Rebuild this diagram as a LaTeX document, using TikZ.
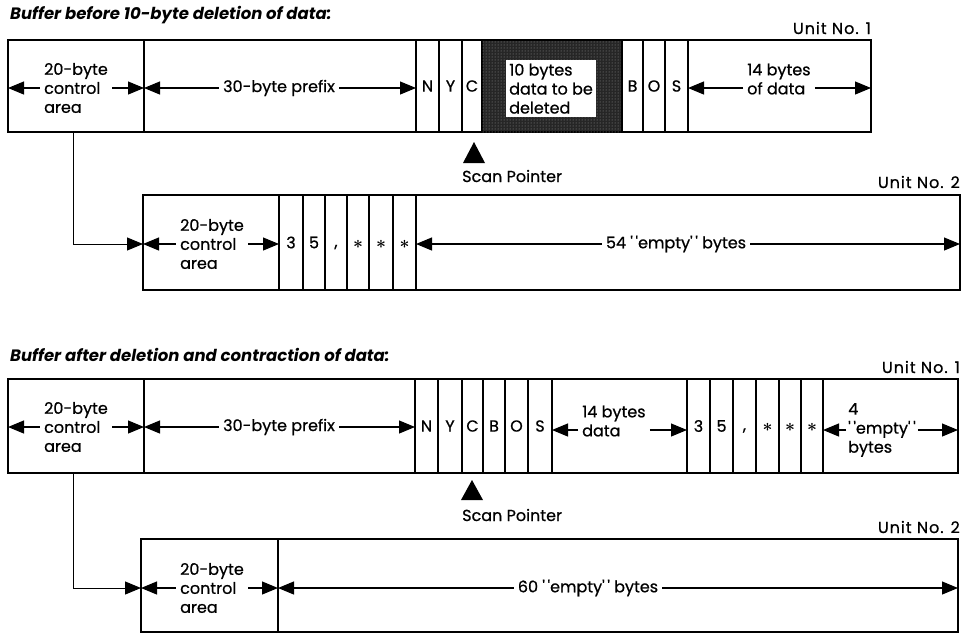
\documentclass[tikz,border=0pt]{standalone}
\usepackage{fontspec}
\setmainfont{Poppins}[UprightFeatures={FakeBold=0.7}]
\usetikzlibrary{arrows.meta,calc,patterns}
\newcommand\qq{\textquotesingle\,\textquotesingle}
\newcommand\astk{\vphantom{N}{\fontsize{19}{19}\selectfont\boldmath$\ast$}}
\newcommand\cma{\vphantom{N},}
\newcommand\cel[6]{\node[cellbox, minimum width={(#3-#2)*1pt}, minimum height={(#5-#4)*1pt}] (#1) at (#2,#4) {#6};}
\tikzset{
  cellbox/.style={draw, line width=2.4pt, inner sep=0pt, outer sep=0pt, anchor=north west, font=\fontsize{16}{19}\selectfont},
  lbl/.style={font=\fontsize{16}{19}\selectfont, align=left, inner sep=4pt},
  ttl/.style={font=\fontsize{16.5}{19}\selectfont\bfseries\itshape, anchor=west, inner sep=0pt},
  unitlbl/.style={font=\fontsize{16}{19}\selectfont\addfontfeature{LetterSpace=6}, anchor=east, inner sep=0pt},
  arr/.style={line width=1.1pt, -{Triangle[length=16pt,width=13pt]}},
  conn/.style={line width=1pt, -{Triangle[length=16pt,width=13pt]}},
  ptr/.style={fill=black},
  delbox/.style={fill=black!85, postaction={pattern=dots, pattern color=black!40}}
}
\begin{document}
\begin{tikzpicture}[x=1pt,y=-1pt]
\useasboundingbox (0,0) rectangle (962,633);
% ---------- Before ----------
\node[ttl] (t1) at (10,15) {Buffer before 10-byte deletion of data:};
\node[unitlbl] (un11) at (871,28) {Unit No. 1};
\cel{u1ctl}{8}{144}{40}{132}{}
\cel{u1pre}{144}{416}{40}{132}{}
\cel{u1N}{416}{439}{40}{132}{N}
\cel{u1Y}{439}{462}{40}{132}{Y}
\cel{u1C}{462}{482}{40}{132}{C}
\node[cellbox, delbox, minimum width=140pt, minimum height=92pt] (u1del) at (482,40) {};
\cel{u1B}{622}{643}{40}{132}{B}
\cel{u1O}{643}{665}{40}{132}{O}
\cel{u1S}{665}{688}{40}{132}{S}
\cel{u1dat}{688}{871}{40}{132}{}
\node[lbl] (l1ctl) at (76,88) {20-byte\\control\\area};
\draw[arr] (l1ctl.west) -- (l1ctl.west -| u1ctl.west);
\draw[arr] (l1ctl.east) -- (l1ctl.east -| u1ctl.east);
\node[lbl] (l1pre) at (279,88) {30-byte prefix};
\draw[arr] (l1pre.west) -- (l1pre.west -| u1pre.west);
\draw[arr] (l1pre.east) -- (l1pre.east -| u1pre.east);
\node[lbl, fill=white, anchor=north west, inner sep=3pt, minimum width=88pt, minimum height=57pt] (l1del) at (506,60) {10 bytes\\data to be\\deleted};
\node[lbl, anchor=west] (l1dat) at (743,79) {14 bytes\\of data};
\draw[arr] ([yshift=-9pt]l1dat.west) -- ([yshift=-9pt]l1dat.west -| u1dat.west);
\draw[arr] ([yshift=-9pt]l1dat.east) -- ([yshift=-9pt]l1dat.east -| u1dat.east);
\fill[ptr] (474,142) -- (463,163) -- (485,163) -- cycle;
\node[lbl, anchor=west, inner sep=0pt] (sp1) at (462,176) {Scan Pointer};
% unit 2
\node[unitlbl] (un12) at (960,182) {Unit No. 2};
\cel{u2ctl}{143}{279}{195}{290}{}
\cel{u2c3}{279}{303}{195}{290}{3}
\cel{u2c5}{303}{325}{195}{290}{5}
\cel{u2cm}{325}{347}{195}{290}{\cma}
\cel{u2s1}{347}{369}{195}{290}{\astk}
\cel{u2s2}{369}{393}{195}{290}{\astk}
\cel{u2s3}{393}{416}{195}{290}{\astk}
\cel{u2emp}{416}{960}{195}{290}{}
\node[lbl] (l2ctl) at (212,244) {20-byte\\control\\area};
\draw[arr] (l2ctl.west) -- (l2ctl.west -| u2ctl.west);
\draw[arr] (l2ctl.east) -- (l2ctl.east -| u2ctl.east);
\node[lbl] (l2emp) at (676,244) {54 \qq empty\qq{} bytes};
\draw[arr] (l2emp.west) -- (l2emp.west -| u2emp.west);
\draw[arr] (l2emp.east) -- (l2emp.east -| u2emp.east);
\coordinate (k1) at (73,244);
\draw[conn] (k1 |- u1ctl.south) -- (k1) -- (k1 -| u2ctl.west);
% ---------- After ----------
\node[ttl] (t2) at (10,355) {Buffer after deletion and contraction of data:};
\node[unitlbl] (un21) at (960,367) {Unit No. 1};
\cel{b1ctl}{8}{144}{379}{473}{}
\cel{b1pre}{144}{415}{379}{473}{}
\cel{b1N}{415}{438}{379}{473}{N}
\cel{b1Y}{438}{462}{379}{473}{Y}
\cel{b1C}{462}{483}{379}{473}{C}
\cel{b1B}{483}{505}{379}{473}{B}
\cel{b1O}{505}{528}{379}{473}{O}
\cel{b1S}{528}{552}{379}{473}{S}
\cel{b1dat}{552}{687}{379}{473}{}
\cel{b1c3}{687}{710}{379}{473}{3}
\cel{b1c5}{710}{733}{379}{473}{5}
\cel{b1cm}{733}{756}{379}{473}{\cma}
\cel{b1s1}{756}{779}{379}{473}{\astk}
\cel{b1s2}{779}{801}{379}{473}{\astk}
\cel{b1s3}{801}{823}{379}{473}{\astk}
\cel{b1emp}{823}{958}{379}{473}{}
\node[lbl] (m1ctl) at (76,427) {20-byte\\control\\area};
\draw[arr] (m1ctl.west) -- (m1ctl.west -| b1ctl.west);
\draw[arr] (m1ctl.east) -- (m1ctl.east -| b1ctl.east);
\node[lbl] (m1pre) at (279,427) {30-byte prefix};
\draw[arr] (m1pre.west) -- (m1pre.west -| b1pre.west);
\draw[arr] (m1pre.east) -- (m1pre.east -| b1pre.east);
\node[lbl, anchor=west] (m1dat) at (578,421) {14 bytes\\data};
\draw[arr] ([yshift=-9pt]m1dat.west) -- ([yshift=-9pt]m1dat.west -| b1dat.west);
\draw[arr] ([yshift=-9pt]m1dat.east) -- ([yshift=-9pt]m1dat.east -| b1dat.east);
\node[lbl, anchor=west, inner sep=2pt] (m1emp) at (846,430) {4\\\qq empty\qq\\bytes};
\draw[arr] (m1emp.west) -- (m1emp.west -| b1emp.west);
\draw[arr] (m1emp.east) -- (m1emp.east -| b1emp.east);
\fill[ptr] (472,480) -- (461,500) -- (483,500) -- cycle;
\node[lbl, anchor=west, inner sep=0pt] (sp2) at (462,515) {Scan Pointer};
% unit 2
\node[unitlbl] (un22) at (960,527) {Unit No. 2};
\cel{b2ctl}{141}{278}{539}{632}{}
\cel{b2emp}{278}{958}{539}{632}{}
\node[lbl] (m2ctl) at (212,588) {20-byte\\control\\area};
\draw[arr] (m2ctl.west) -- (m2ctl.west -| b2ctl.west);
\draw[arr] (m2ctl.east) -- (m2ctl.east -| b2ctl.east);
\node[lbl] (m2emp) at (588,588) {60 \qq empty\qq{} bytes};
\draw[arr] (m2emp.west) -- (m2emp.west -| b2emp.west);
\draw[arr] (m2emp.east) -- (m2emp.east -| b2emp.east);
\coordinate (k2) at (73,588);
\draw[conn] (k2 |- b1ctl.south) -- (k2) -- (k2 -| b2ctl.west);
\end{tikzpicture}
\end{document}
